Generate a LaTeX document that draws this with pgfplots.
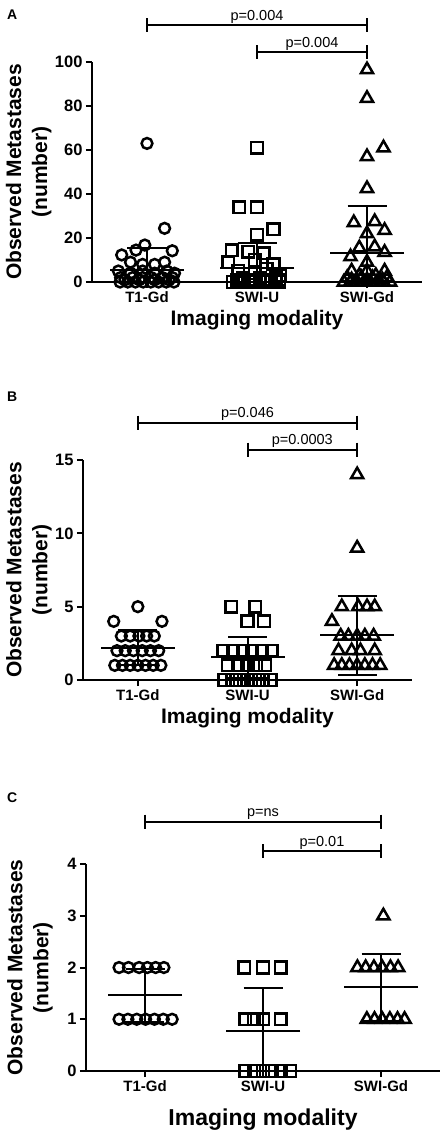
\documentclass[border=0pt]{standalone}
\usepackage{fontspec}
\setmainfont{Liberation Sans}
\usepackage{pgfplots}
\pgfplotsset{compat=1.18}

\newcommand{\tickfont}{\fontsize{15}{18}\selectfont\bfseries}
\newcommand{\ytickfont}{\fontsize{16.5}{19}\selectfont\bfseries}
\newcommand{\labfont}{\fontsize{21}{26}\selectfont\bfseries}
\newcommand{\pfont}{\fontsize{14.5}{17}\selectfont}

\pgfplotsset{
  gp/.style={
    scale only axis, clip=false,
    xmin=-0.5, xmax=2.5, ymin=0,
    axis x line*=bottom, axis y line*=left,
    axis line style={line width=2pt, -},
    xtick={0,1,2}, xticklabels={T1-Gd,SWI-U,SWI-Gd},
    tick style={line width=2pt, black},
    tick align=outside, major tick length=6pt,
    x tick label style={font=\tickfont},
    y tick label style={font=\ytickfont},
    /pgf/number format/assume math mode=true,
    xlabel={Imaging modality},
    ylabel={Observed Metastases\\(number)},
    xlabel style={font=\labfont},
    ylabel style={font=\labfont, align=center, anchor=center},
  },
  circ/.style={only marks, black, mark=o, mark size=5.4pt, mark options={line width=2.5pt, solid}},
  sq/.style={only marks, black, mark=square, mark size=5.8pt, mark options={line width=2.5pt, solid}},
  tri/.style={only marks, black, mark=triangle, mark size=7pt, mark options={line width=2.5pt, solid}},
  msd/.style={only marks, black, mark=-, mark size=37pt, mark options={line width=2pt},
    error bars/.cd, y dir=both, y explicit, error mark=|,
    error bar style={line width=2pt, black},
    error mark options={mark size=19.5pt, line width=2pt, black}},
}

\pgfplotstableread{
x mean plus minus
0 5.5 10.1 5.5
1 6.3 11.6 6.3
2 13.0 21.5 13.0
}\statA
\pgfplotstableread{
x mean plus minus
0 2.2 1.2 1.2
1 1.55 1.4 1.4
2 3.05 2.7 2.7
}\statB
\pgfplotstableread{
x mean plus minus
0 1.46 0.52 0.52
1 0.78 0.83 0.78
2 1.62 0.65 0.65
}\statC

\begin{document}
\begin{tikzpicture}
\useasboundingbox (0,0) rectangle (447pt,-1141pt);

% ---------------- panel A
\begin{axis}[gp, at={(92pt,-282pt)}, anchor=south west,
  width=330pt, height=220pt, ymax=100, ytick={0,20,40,60,80,100},
  ylabel style={at={(axis description cs:-0.192,0.5)}},
  xlabel style={at={(axis description cs:0.5,0)}, anchor=center, yshift=-38pt}]
\addplot[circ] coordinates {
 (0,63) (0.16,24.4) (-0.02,16.8) (-0.1,14.5) (0.23,14.2) (-0.23,12.3)
 (-0.15,9) (-0.04,8) (0.07,8) (0.16,9)
 (-0.26,5) (-0.15,4) (-0.04,5) (0.07,4) (0.18,5) (0.25,4)
 (-0.24,2) (-0.13,2) (-0.04,2) (0.04,2) (0.14,2) (0.23,2)
 (-0.2,1) (-0.07,1) (0.07,1) (0.2,1)
 (-0.245,0) (-0.175,0) (-0.105,0) (-0.035,0) (0.035,0) (0.105,0) (0.175,0) (0.245,0)};
\addplot[sq] coordinates {
 (1,61) (0.84,34) (1,34) (1.15,24) (1,21.5) (0.77,14.5) (0.92,13.7) (1.06,13)
 (0.74,9) (0.98,10) (1.15,8)
 (0.83,5) (0.98,4) (1.09,6) (1.21,3)
 (0.87,2) (1.03,2) (1.17,2)
 (0.82,1) (0.95,1) (1.08,1) (1.2,1)
 (0.78,0) (0.85,0) (0.92,0) (0.99,0) (1.06,0) (1.13,0) (1.2,0)};
\addplot[tri] coordinates {
 (2,96.5) (2,83.5) (2.15,61) (2,57) (2,42.5) (1.88,27) (2.07,27.5) (2.16,23.5) (2,22)
 (1.93,15.5) (2.07,16) (2.16,13.5) (1.85,11.5) (2,9)
 (1.86,5) (2,5) (2.16,5) (1.93,3) (2.08,3)
 (1.82,2) (1.95,2) (2.05,2) (2.18,2)
 (1.86,1) (2,1) (2.14,1)
 (1.79,0) (1.85,0) (1.91,0) (1.97,0) (2.03,0) (2.09,0) (2.15,0) (2.21,0)};
\addplot[msd] table[x=x, y=mean, y error plus=plus, y error minus=minus] {\statA};
\draw[line width=2pt] (axis cs:0,116.8) -- (axis cs:2,116.8)
  (axis cs:0,116.8) ++(0pt,7pt) -- ++(0pt,-14pt)
  (axis cs:2,116.8) ++(0pt,7pt) -- ++(0pt,-14pt);
\draw[line width=2pt] (axis cs:1,104.5) -- (axis cs:2,104.5)
  (axis cs:1,104.5) ++(0pt,7pt) -- ++(0pt,-14pt)
  (axis cs:2,104.5) ++(0pt,7pt) -- ++(0pt,-14pt);
\node[font=\pfont, anchor=base] at ([yshift=5pt]axis cs:1,116.8) {p=0.004};
\node[font=\pfont, anchor=base] at ([yshift=5pt]axis cs:1.5,104.5) {p=0.004};
\end{axis}

% ---------------- panel B
\begin{axis}[gp, at={(83pt,-680pt)}, anchor=south west,
  width=329pt, height=220pt, ymax=15, ytick={0,5,10,15},
  ylabel style={at={(axis description cs:-0.164,0.5)}},
  xlabel style={at={(axis description cs:0.5,0)}, anchor=center, yshift=-38pt}]
\addplot[circ] coordinates {
 (0,5) (-0.22,4) (0.22,4)
 (-0.15,3) (-0.07,3) (0.01,3) (0.08,3) (0.15,3)
 (-0.19,2) (-0.115,2) (-0.04,2) (0.04,2) (0.115,2) (0.19,2)
 (-0.21,1) (-0.14,1) (-0.07,1) (0,1) (0.07,1) (0.14,1) (0.21,1)};
\addplot[sq] coordinates {
 (0.85,5) (1.07,5) (1,4) (1.15,4)
 (0.78,2) (0.87,2) (0.96,2) (1.04,2) (1.13,2) (1.22,2)
 (0.82,1) (0.91,1) (1,1) (1.08,1) (1.16,1)
 (0.79,0) (0.86,0) (0.93,0) (1,0) (1.07,0) (1.14,0) (1.21,0)};
\addplot[tri] coordinates {
 (2,14) (2,9)
 (1.86,5) (2.01,5) (2.09,5) (2.16,5) (1.77,4)
 (1.85,3) (1.92,3) (2,3) (2.07,3) (2.15,3)
 (1.83,2) (1.95,2) (2.03,2) (2.16,2)
 (1.79,1) (1.86,1) (1.93,1) (2,1) (2.07,1) (2.14,1) (2.21,1)};
\addplot[msd] table[x=x, y=mean, y error plus=plus, y error minus=minus] {\statB};
\draw[line width=2pt] (axis cs:0,17.55) -- (axis cs:2,17.55)
  (axis cs:0,17.55) ++(0pt,7pt) -- ++(0pt,-14pt)
  (axis cs:2,17.55) ++(0pt,7pt) -- ++(0pt,-14pt);
\draw[line width=2pt] (axis cs:1,15.7) -- (axis cs:2,15.7)
  (axis cs:1,15.7) ++(0pt,7pt) -- ++(0pt,-14pt)
  (axis cs:2,15.7) ++(0pt,7pt) -- ++(0pt,-14pt);
\node[font=\pfont, anchor=base] at ([yshift=5pt]axis cs:1,17.55) {p=0.046};
\node[font=\pfont, anchor=base] at ([yshift=5pt]axis cs:1.5,15.7) {p=0.0003};
\end{axis}

% ---------------- panel C
\begin{axis}[gp, at={(86pt,-1071pt)}, anchor=south west,
  width=354pt, height=207pt, ymax=4, ytick={0,1,2,3,4},
  ylabel style={at={(axis description cs:-0.158,0.5)}},
  xlabel style={at={(axis description cs:0.5,0)}, anchor=center, yshift=-49pt,
    font=\fontsize{23}{27}\selectfont\bfseries}]
\addplot[circ] coordinates {
 (-0.22,2) (-0.14,2) (-0.05,2) (0.02,2) (0.09,2) (0.16,2)
 (-0.22,1) (-0.145,1) (-0.07,1) (0.005,1) (0.08,1) (0.155,1) (0.23,1)};
\addplot[sq] coordinates {
 (0.84,2) (1,2) (1.15,2)
 (0.85,1) (0.92,1) (1,1) (1.15,1)
 (0.85,0) (0.925,0) (1,0) (1.075,0) (1.15,0) (1.23,0)};
\addplot[tri] coordinates {
 (2.02,3)
 (1.8,2) (1.87,2) (1.94,2) (2.01,2) (2.08,2) (2.145,2)
 (1.88,1) (1.945,1) (2.01,1) (2.075,1) (2.14,1) (2.2,1)};
\addplot[msd] table[x=x, y=mean, y error plus=plus, y error minus=minus] {\statC};
\draw[line width=2pt] (axis cs:0,4.82) -- (axis cs:2,4.82)
  (axis cs:0,4.82) ++(0pt,7pt) -- ++(0pt,-14pt)
  (axis cs:2,4.82) ++(0pt,7pt) -- ++(0pt,-14pt);
\draw[line width=2pt] (axis cs:1,4.25) -- (axis cs:2,4.25)
  (axis cs:1,4.25) ++(0pt,7pt) -- ++(0pt,-14pt)
  (axis cs:2,4.25) ++(0pt,7pt) -- ++(0pt,-14pt);
\node[font=\pfont, anchor=base] at ([yshift=5pt]axis cs:1,4.82) {p=ns};
\node[font=\pfont, anchor=base] at ([yshift=5pt]axis cs:1.5,4.25) {p=0.01};
\end{axis}

\node[font=\fontsize{14}{16}\selectfont\bfseries, anchor=north west, inner sep=0] at (7pt,-10pt) {A};
\node[font=\fontsize{14}{16}\selectfont\bfseries, anchor=north west, inner sep=0] at (7pt,-392pt) {B};
\node[font=\fontsize{14}{16}\selectfont\bfseries, anchor=north west, inner sep=0] at (7pt,-793pt) {C};
\end{tikzpicture}
\end{document}
